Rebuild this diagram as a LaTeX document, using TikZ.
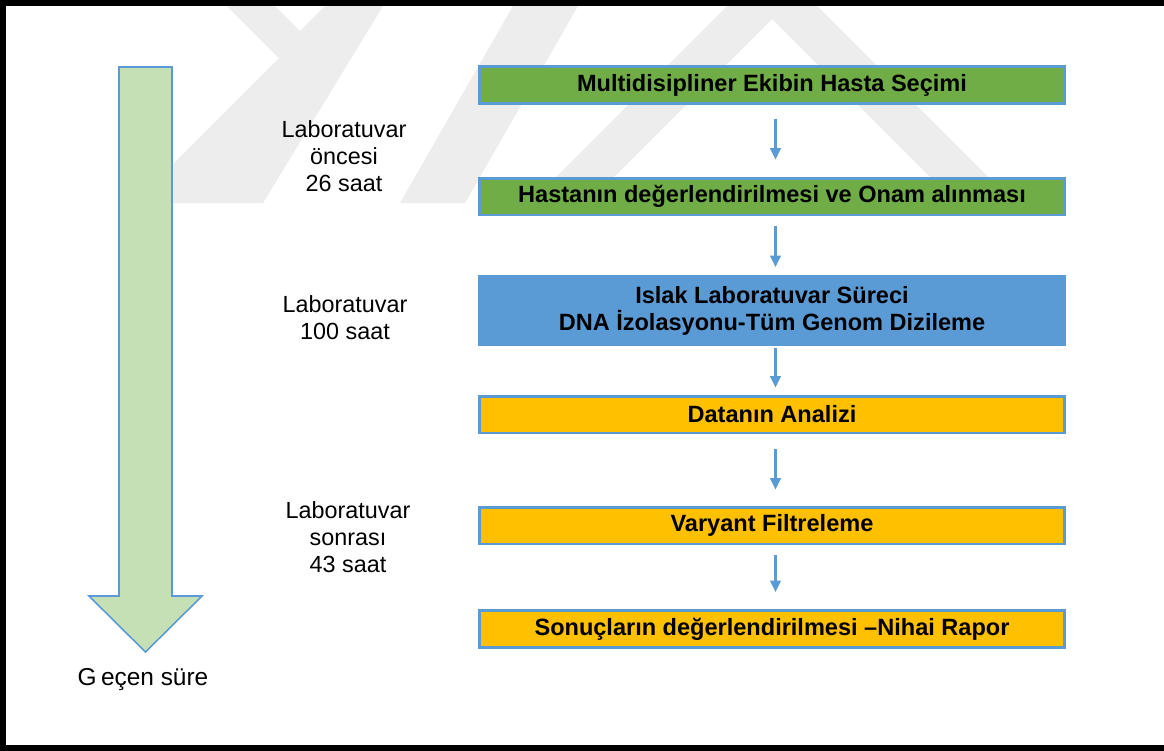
\documentclass[tikz,border=0pt]{standalone}
\usepackage{fontspec}
\setmainfont{Liberation Sans}
\usetikzlibrary{arrows.meta}
\definecolor{wm}{HTML}{EDEDED}
\definecolor{bordblue}{HTML}{5B9BD5}
\definecolor{boxgreen}{HTML}{70AD47}
\definecolor{boxblue}{HTML}{5B9BD5}
\definecolor{boxyellow}{HTML}{FFC000}
\definecolor{arrowgreen}{HTML}{C5E0B4}
\definecolor{linkblue}{HTML}{5B9BD5}
\begin{document}
\begin{tikzpicture}[x=0.02cm,y=-0.02cm,
  stepbox/.style={draw=bordblue, line width=1.7pt, minimum width=11.70cm,
    minimum height=0.74cm, inner sep=0pt, align=center, text=black,
    font=\bfseries\fontsize{13.4}{15.3}\selectfont},
  timelabel/.style={font=\fontsize{13.3}{15.3}\selectfont, align=center, inner sep=0pt},
  link/.style={draw=linkblue, line width=1.3pt, -{Triangle[width=6pt,length=6.5pt]}},
  wmshape/.style={fill=wm, draw=none}]
\useasboundingbox (0,0) rectangle (1164,751);
\fill[white] (0,0) rectangle (1164,751);
% watermark
\begin{scope}
  \clip (0,6) rectangle (1164,203);
  \fill[wmshape] (227,6) -- (275,6) -- (300,31) -- (325,6) -- (383,6) -- (263,203) -- (134,203) -- (279,58) -- cycle;
  \fill[wmshape] (513,6) -- (578,6) -- (465,203) -- (400,203) -- cycle;
  \fill[wmshape] (772,-39) -- (1014,203) -- (956,203) -- (772,19) -- (588,203) -- (530,203) -- cycle;
\end{scope}
% frame
\draw[black, line width=3.2pt] (1170,3) -- (2.8,3) -- (2.8,748.3) -- (1170,748.3);
% big time arrow
\draw[fill=arrowgreen, draw=bordblue, line width=0.9pt]
  (119,67) -- (172,67) -- (172,596) -- (202,596) -- (145.5,652) -- (89,596) -- (119,596) -- cycle;
\node[timelabel, font=\fontsize{13.9}{16}\selectfont] (gecen) at (143,680) {G\kern2.5pt eçen süre};
% time labels
\node[timelabel] (lab1) at (344,156) {Laboratuvar\\öncesi\\26 saat};
\node[timelabel] (lab2) at (345,318) {Laboratuvar\\100 saat};
\node[timelabel] (lab3) at (348,537) {Laboratuvar\\sonrası\\43 saat};
% steps
\node[stepbox, fill=boxgreen] (b1) at (772,85) {Multidisipliner Ekibin Hasta Seçimi};
\node[stepbox, fill=boxgreen] (b2) at (772,196.5) {Hastanın değerlendirilmesi ve Onam alınması};
\node[stepbox, fill=boxblue, minimum height=1.36cm] (b3) at (772,310.5) {Islak Laboratuvar Süreci\\DNA İzolasyonu-Tüm Genom Dizileme};
\node[stepbox, fill=boxyellow] (b4) at (772,414.5) {Datanın Analizi};
\node[stepbox, fill=boxyellow] (b5) at (772,525.5) {Varyant Filtreleme};
\node[stepbox, fill=boxyellow] (b6) at (772,629) {Sonuçların değerlendirilmesi –Nihai Rapor};
% connectors
\draw[link, shorten <=0.28cm, shorten >=0.34cm] ([xshift=0.07cm]b1.south) -- ([xshift=0.07cm]b2.north);
\draw[link, shorten <=0.20cm, shorten >=0.16cm] ([xshift=0.07cm]b2.south) -- ([xshift=0.07cm]b3.north);
\draw[link, shorten <=0.04cm, shorten >=0.14cm] ([xshift=0.07cm]b3.south) -- ([xshift=0.07cm]b4.north);
\draw[link, shorten <=0.30cm, shorten >=0.32cm] ([xshift=0.07cm]b4.south) -- ([xshift=0.07cm]b5.north);
\draw[link, shorten <=0.20cm, shorten >=0.34cm] ([xshift=0.07cm]b5.south) -- ([xshift=0.07cm]b6.north);
\end{tikzpicture}
\end{document}
